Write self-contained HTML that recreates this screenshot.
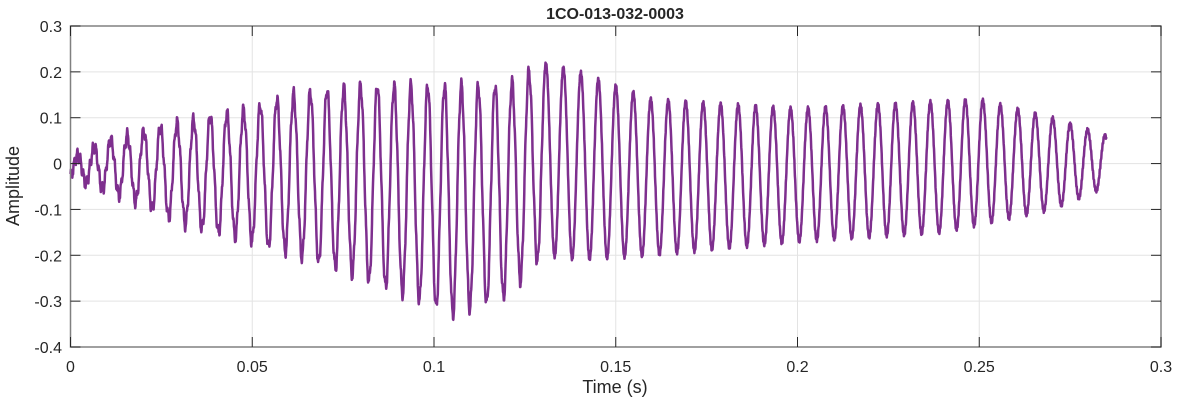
<!DOCTYPE html>
<html><head><meta charset="utf-8"><style>body{margin:0;background:#fff}svg{display:block}text{font-family:"Liberation Sans",sans-serif;fill:#262626}</style></head>
<body>
<svg id="s" width="1177" height="404" xmlns="http://www.w3.org/2000/svg">
<rect x="0" y="0" width="1177" height="404" fill="#fff"/>
<g stroke="#e3e3e3" stroke-width="1" id="grid"></g>
<path id="w" fill="none" stroke="#7E2F8E" stroke-width="2.5" stroke-linejoin="round"/>
<rect x="70.5" y="26" width="1090.5" height="321" fill="none" stroke="#808080" stroke-width="1.5"/>
<g id="ticks" stroke="#262626" stroke-width="1"></g>
<g id="lab" font-size="16"></g>
<text x="615" y="19" font-size="16" font-weight="bold" text-anchor="middle">1CO-013-032-0003</text>
<text x="615" y="393" font-size="18" text-anchor="middle">Time (s)</text>
<text transform="translate(19,186) rotate(-90)" font-size="18" text-anchor="middle">Amplitude</text>
</svg>
<script>
var X0=70.5,X1=1161,Y0=26,Y1=347;
function px(t){return X0+(X1-X0)*t/0.3}
function py(v){return Y0+(Y1-Y0)*(0.3-v)/0.7}
var g=document.getElementById('grid'),tk=document.getElementById('ticks'),lb=document.getElementById('lab'),ns='http://www.w3.org/2000/svg';
function el(p,n,a,txt){var e=document.createElementNS(ns,n);for(var k in a)e.setAttribute(k,a[k]);if(txt!=null)e.textContent=txt;p.appendChild(e);return e}
for(var i=0;i<=6;i++){var t=i*0.05,x=px(t);if(i>0&&i<6)el(g,'line',{x1:x,x2:x,y1:Y0,y2:Y1});
el(tk,'line',{x1:x,x2:x,y1:Y1,y2:Y1-10});el(tk,'line',{x1:x,x2:x,y1:Y0,y2:Y0+10});
el(lb,'text',{x:x,y:372,'text-anchor':'middle'},i==0?'0':(+t.toFixed(2)).toString());}
for(var j=0;j<=7;j++){var v=0.3-j*0.1,y=py(v);if(j>0&&j<7)el(g,'line',{x1:X0,x2:X1,y1:y,y2:y});
el(tk,'line',{x1:X0,x2:X0+10,y1:y,y2:y});el(tk,'line',{x1:X1,x2:X1-10,y1:y,y2:y});
var s=Math.abs(v)<1e-9?'0':(+v.toFixed(1)).toString();el(lb,'text',{x:62,y:y+6,'text-anchor':'end'},s);}
var U=[[0,0.01],[0.01,0.05],[0.02,0.07],[0.03,0.09],[0.05,0.12],[0.06,0.15],[0.08,0.17],[0.1,0.17],[0.12,0.17],[0.13,0.22],[0.14,0.2],[0.16,0.14],[0.2,0.12],[0.25,0.14],[0.27,0.1],[0.285,0.06]];
var L=[[0,-0.03],[0.01,-0.06],[0.02,-0.09],[0.03,-0.13],[0.05,-0.17],[0.07,-0.22],[0.09,-0.28],[0.1,-0.31],[0.105,-0.33],[0.12,-0.29],[0.13,-0.2],[0.14,-0.21],[0.16,-0.2],[0.2,-0.17],[0.24,-0.15],[0.27,-0.1],[0.285,-0.05]];
function interp(T,t){if(t<=T[0][0])return T[0][1];for(var i=1;i<T.length;i++)if(t<=T[i][0]){var a=T[i-1],b=T[i];return a[1]+(b[1]-a[1])*(t-a[0])/(b[0]-a[0])}return T[T.length-1][1]}
var d='',ph=-1.2,N=4000,T=0.285;
for(var k=0;k<=N;k++){var t=T*k/N;var f=t<0.13?220-40*t:208;ph+=2*Math.PI*f*T/N;
var u=interp(U,t),l=interp(L,t),m=(u+l)/2,a=(u-l)/2;
var v=m+a*Math.sin(ph)+(t<0.13?0.012*Math.sin(ph*5.3):0)+0.004*Math.sin(k*1.7);
d+=(k?'L':'M')+px(t).toFixed(1)+','+py(v).toFixed(1);}
document.getElementById('w').setAttribute('d',d);
</script>
</body></html>
